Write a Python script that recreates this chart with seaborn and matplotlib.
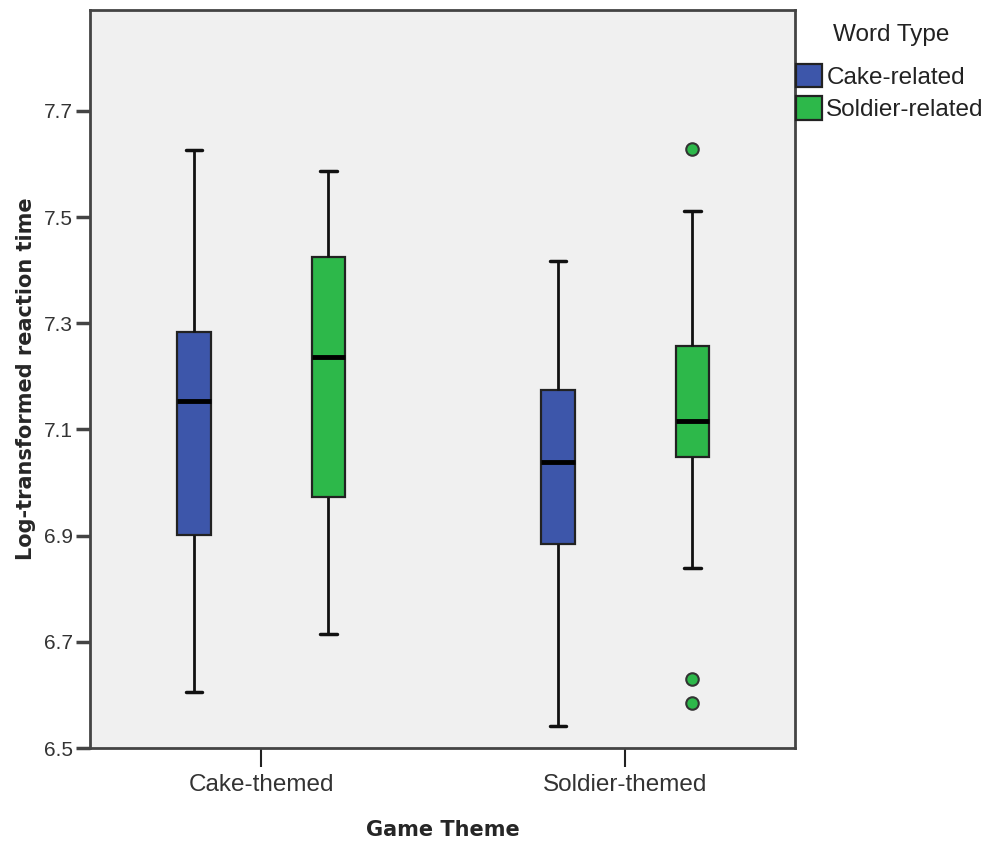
import numpy as np
import pandas as pd
import matplotlib
matplotlib.use("Agg")
import matplotlib.pyplot as plt
import seaborn as sns

# ---- data (five-number summaries + outliers) ----
themes = ["Cake-themed", "Soldier-themed"]
word_types = ["Cake-related", "Soldier-related"]
group_theme = ["Cake-themed", "Cake-themed", "Soldier-themed", "Soldier-themed"]
group_word = ["Cake-related", "Soldier-related", "Cake-related", "Soldier-related"]
whisker_low = [6.605, 6.715, 6.541, 6.839]
q1 = [6.901, 6.973, 6.884, 7.048]
median = [7.153, 7.236, 7.039, 7.116]
q3 = [7.283, 7.425, 7.174, 7.257]
whisker_high = [7.626, 7.587, 7.417, 7.511]
outliers_low = [[], [], [], [6.630, 6.585]]
outliers_high = [[], [], [], [7.628]]
yticks = [6.5, 6.7, 6.9, 7.1, 7.3, 7.5, 7.7]

blue = "#3D56AA"
green = "#2DB84A"


def sample_from_summary(lo_out, wlo, a, m, b, whi, hi_out):
    """Arrange the read summary values so the quartiles land exactly on them."""
    below = sorted(lo_out) + [wlo]
    above = [whi] + sorted(hi_out)
    k = max(len(below), len(above))
    below = below + [wlo] * (k - len(below))
    above = [whi] * (k - len(above)) + above
    return below + [a] * k + [m] * k + [b] + above


rows = []
for i in range(4):
    vals = sample_from_summary(outliers_low[i], whisker_low[i], q1[i], median[i],
                               q3[i], whisker_high[i], outliers_high[i])
    for v in vals:
        rows.append((group_theme[i], group_word[i], v))
df = pd.DataFrame(rows, columns=["Game Theme", "Word Type", "rt"])

sns.set_style("white")
plt.rcParams["font.family"] = ["Liberation Sans", "DejaVu Sans"]

fig = plt.figure(figsize=(9.93, 8.41), dpi=100)
ax = fig.add_axes([90 / 993, 1 - 748 / 841, 705 / 993, 738 / 841])

sns.boxplot(
    data=df, x="Game Theme", y="rt", hue="Word Type",
    order=themes, hue_order=word_types,
    palette=[blue, green], saturation=1,
    width=0.74, gap=0.75,
    linecolor="#222222", linewidth=1.6,
    medianprops=dict(color="black", linewidth=3.5),
    whiskerprops=dict(color="#111111", linewidth=2),
    capprops=dict(color="#111111", linewidth=2.5),
    flierprops=dict(marker="o", markerfacecolor=green, markeredgecolor="#333333",
                    markeredgewidth=1.5, markersize=9),
    capwidths=0.045,
    ax=ax,
)

ax.set_facecolor("#F0F0F0")
ax.set_xlim(-0.47, 1.467)
ax.set_ylim(6.5, 7.89)
ax.set_yticks(yticks)
ax.set_yticklabels([f"{t:.1f}" for t in yticks], fontsize=15, color="#333333")
ax.tick_params(axis="x", labelsize=17.5, colors="#222222", length=14, width=1.5,
               direction="out", bottom=True, pad=5, labelcolor="#333333")
ax.tick_params(axis="y", length=10, width=2.5, direction="out", left=True,
               colors="#444444", pad=2, labelcolor="#333333")
for s in ax.spines.values():
    s.set_color("#444444")
    s.set_linewidth(2)

ax.set_xlabel("Game Theme", fontsize=15, fontweight="bold", family="DejaVu Sans",
              labelpad=17)
ax.set_ylabel("Log-transformed reaction time", fontsize=15, fontweight="bold",
              family="DejaVu Sans", labelpad=6)

sns.move_legend(
    ax, "upper left", bbox_to_anchor=(796 / 993, 1 - 64 / 841),
    bbox_transform=fig.transFigure,
    title=None, frameon=False, fontsize=17.5,
    handlelength=1.05, handleheight=1.1, handletextpad=0.2, labelspacing=0.3,
    borderaxespad=0, borderpad=0.0,
)
leg = ax.get_legend()
for t in leg.get_texts():
    t.set_color("#222222")
fig.text(891 / 993, 1 - 35 / 841, "Word Type", ha="center", va="center",
         fontsize=17.5, color="#222222")

fig.savefig("out.png", dpi=100, facecolor="white")
